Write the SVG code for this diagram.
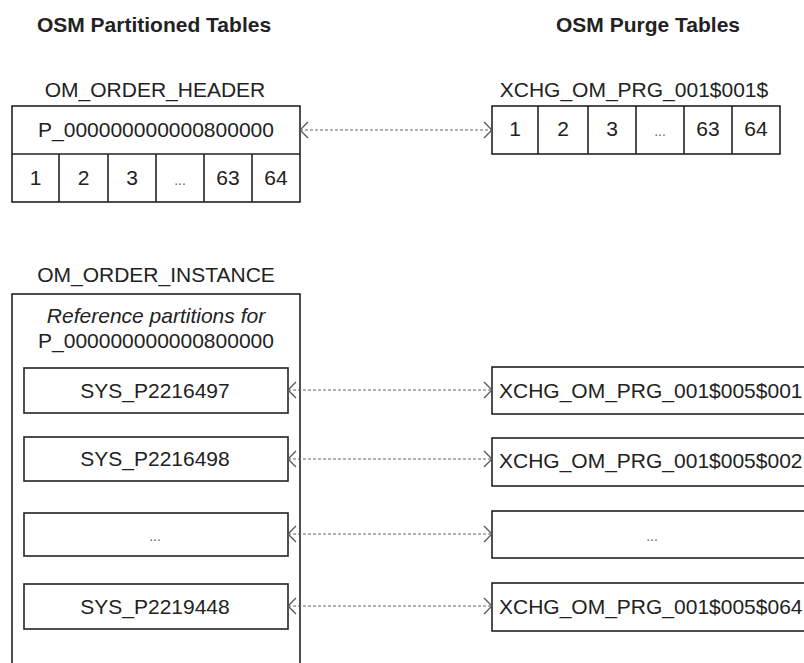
<svg xmlns="http://www.w3.org/2000/svg" width="804" height="663" viewBox="0 0 804 663">
<defs>
<style>
text{font-family:"Liberation Sans",Arial,sans-serif;font-size:21px;fill:#222}
.title{font-weight:bold}
.c{text-anchor:middle}
.it{font-style:italic}
.box{fill:#fff;stroke:#222;stroke-width:1.6}
.div{stroke:#222;stroke-width:1.6}
.conn{stroke:#666;stroke-width:1.2;stroke-dasharray:3 2;fill:none}
.dots{font-size:14px;fill:#666}
</style>
<marker id="chev" markerUnits="userSpaceOnUse" markerWidth="20" markerHeight="20" viewBox="-10 -10 20 20" refX="0" refY="0" orient="auto-start-reverse">
<path d="M-8,-8 L0,0 L-8,8" fill="none" stroke="#555" stroke-width="1.3"/>
</marker>
</defs>
<rect width="804" height="663" fill="#fff"/>

<text class="title c" x="154" y="32">OSM Partitioned Tables</text>
<text class="title c" x="648" y="32">OSM Purge Tables</text>

<g id="om_order_header">
<text class="c" x="155" y="97">OM_ORDER_HEADER</text>
<rect class="box" x="12" y="106" width="288" height="96"/>
<line class="div" x1="12" y1="154" x2="300" y2="154"/>
<line class="div" x1="59" y1="154" x2="59" y2="202"/>
<line class="div" x1="108" y1="154" x2="108" y2="202"/>
<line class="div" x1="156" y1="154" x2="156" y2="202"/>
<line class="div" x1="204" y1="154" x2="204" y2="202"/>
<line class="div" x1="252" y1="154" x2="252" y2="202"/>
<text class="c" x="156" y="137">P_000000000000800000</text>
<text class="c" x="35.5" y="185">1</text>
<text class="c" x="83.5" y="185">2</text>
<text class="c" x="132" y="185">3</text>
<text class="c dots" x="180" y="185">...</text>
<text class="c" x="228" y="185">63</text>
<text class="c" x="276" y="185">64</text>
</g>

<g id="xchg_om_prg_001_001">
<text class="c" x="634" y="97">XCHG_OM_PRG_001$001$</text>
<rect class="box" x="492" y="106" width="288" height="48"/>
<line class="div" x1="538" y1="106" x2="538" y2="154"/>
<line class="div" x1="588" y1="106" x2="588" y2="154"/>
<line class="div" x1="636" y1="106" x2="636" y2="154"/>
<line class="div" x1="684" y1="106" x2="684" y2="154"/>
<line class="div" x1="732" y1="106" x2="732" y2="154"/>
<text class="c" x="515" y="136">1</text>
<text class="c" x="563" y="136">2</text>
<text class="c" x="612" y="136">3</text>
<text class="c dots" x="660" y="136">...</text>
<text class="c" x="708" y="136">63</text>
<text class="c" x="756" y="136">64</text>
</g>

<g id="om_order_instance">
<text class="c" x="156" y="282">OM_ORDER_INSTANCE</text>
<rect class="box" x="12" y="294" width="288" height="400"/>
<text class="c it" x="156" y="323">Reference partitions for</text>
<text class="c" x="156" y="348">P_000000000000800000</text>
</g>

<g id="sys_p2216497">
<rect class="box" x="24" y="368" width="264" height="45"/>
<text class="c" x="155" y="398">SYS_P2216497</text>
</g>
<g id="sys_p2216498">
<rect class="box" x="24" y="437" width="264" height="44"/>
<text class="c" x="155" y="466">SYS_P2216498</text>
</g>
<g id="sys_dots">
<rect class="box" x="24" y="513" width="264" height="43"/>
<text class="c dots" x="155" y="541">...</text>
</g>
<g id="sys_p2219448">
<rect class="box" x="24" y="584" width="264" height="45"/>
<text class="c" x="155" y="614">SYS_P2219448</text>
</g>

<g id="xchg_005_001">
<rect class="box" x="492" y="367" width="340" height="47"/>
<text x="499" y="398">XCHG_OM_PRG_001$005$001</text>
</g>
<g id="xchg_005_002">
<rect class="box" x="492" y="438" width="340" height="48"/>
<text x="499" y="468">XCHG_OM_PRG_001$005$002</text>
</g>
<g id="xchg_dots">
<rect class="box" x="492" y="511" width="340" height="47"/>
<text class="c dots" x="652" y="541">...</text>
</g>
<g id="xchg_005_064">
<rect class="box" x="492" y="583" width="340" height="48"/>
<text x="499" y="614">XCHG_OM_PRG_001$005$064</text>
</g>

<g id="connectors">
<line class="conn" x1="300" y1="130" x2="492" y2="130" marker-start="url(#chev)" marker-end="url(#chev)"/>
<line class="conn" x1="288" y1="390" x2="492" y2="390" marker-start="url(#chev)" marker-end="url(#chev)"/>
<line class="conn" x1="288" y1="459" x2="492" y2="459" marker-start="url(#chev)" marker-end="url(#chev)"/>
<line class="conn" x1="288" y1="534" x2="492" y2="534" marker-start="url(#chev)" marker-end="url(#chev)"/>
<line class="conn" x1="288" y1="606" x2="492" y2="606" marker-start="url(#chev)" marker-end="url(#chev)"/>
</g>
</svg>
